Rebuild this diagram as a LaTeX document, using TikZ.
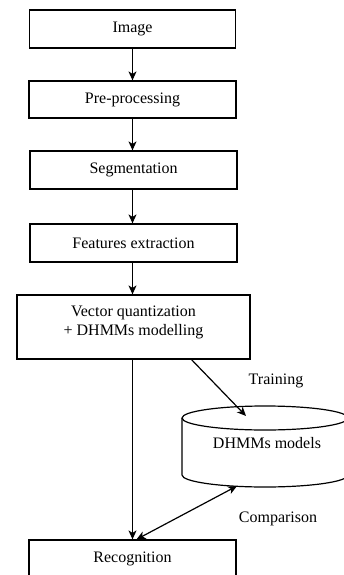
\documentclass[tikz,border=0pt]{standalone}
\usepackage{fontspec}
\setmainfont{Liberation Serif}
\usetikzlibrary{arrows.meta}

\tikzset{
  stagebox/.style={draw, line width=1.2pt, minimum width=207pt, minimum height=38pt,
    inner sep=0pt, font=\fontsize{16}{19}\selectfont},
  plain/.style={inner sep=0pt, font=\fontsize{16}{19}\selectfont, align=center},
  flow/.style={line width=1.2pt, -{Stealth[length=9pt,width=8pt,inset=2.5pt]}},
  twoway/.style={line width=1.2pt, {Stealth[length=9pt,width=8pt,inset=2.5pt]}-{Stealth[length=9pt,width=8pt,inset=2.5pt]}},
}

\begin{document}
\begin{tikzpicture}[x=1pt, y=-1pt]
  \useasboundingbox (0,0) rectangle (344,575);
  \clip (0,0) rectangle (344,575);

  % processing chain
  \node[stagebox, minimum width=206pt] (img)  at (132.5, 29)  {Image};
  \node[stagebox, minimum height=37pt] (pre)  at (132.5, 99.5) {Pre-processing};
  \node[stagebox] (seg)  at (133.5, 170) {Segmentation};
  \node[stagebox] (feat) at (133.5, 243) {Features extraction};
  \node[stagebox, minimum width=233pt, minimum height=64pt] (vq) at (133.5, 327) {};
  \node[plain] (vqtext) at (133.5, 322) {Vector quantization\\+ DHMMs modelling};
  \node[stagebox] (rec)  at (132.5, 559) {Recognition};

  % model database (cylinder)
  \draw[line width=1.2pt] (182,418) -- (182,475)
     arc[start angle=180, end angle=360, x radius=83pt, y radius=12pt] -- (348,418);
  \draw[line width=1.2pt] (265,418) ellipse[x radius=83pt, y radius=12pt];
  \node[plain] (db) at (267, 443) {DHMMs models};
  \coordinate (dbtop) at (246, 416);
  \coordinate (dbbot) at (237, 486);

  % labels
  \node[plain] (train) at (276, 381) {Training};
  \node[plain] (comp)  at (278, 519) {Comparison};

  % connectors
  \draw[flow] (img.south) -- (pre.north);
  \draw[flow] (pre.south) -- (pre.south |- seg.north);
  \draw[flow] (seg.south -| pre.south) -- (pre.south |- feat.north);
  \draw[flow] (feat.south -| pre.south) -- (pre.south |- vq.north);
  \draw[flow] (vq.south -| pre.south) -- (pre.south |- rec.north);
  \draw[flow] ([xshift=58pt]vq.south) -- (dbtop);
  \draw[twoway] ([xshift=4pt]rec.north) -- (dbbot);
\end{tikzpicture}
\end{document}
